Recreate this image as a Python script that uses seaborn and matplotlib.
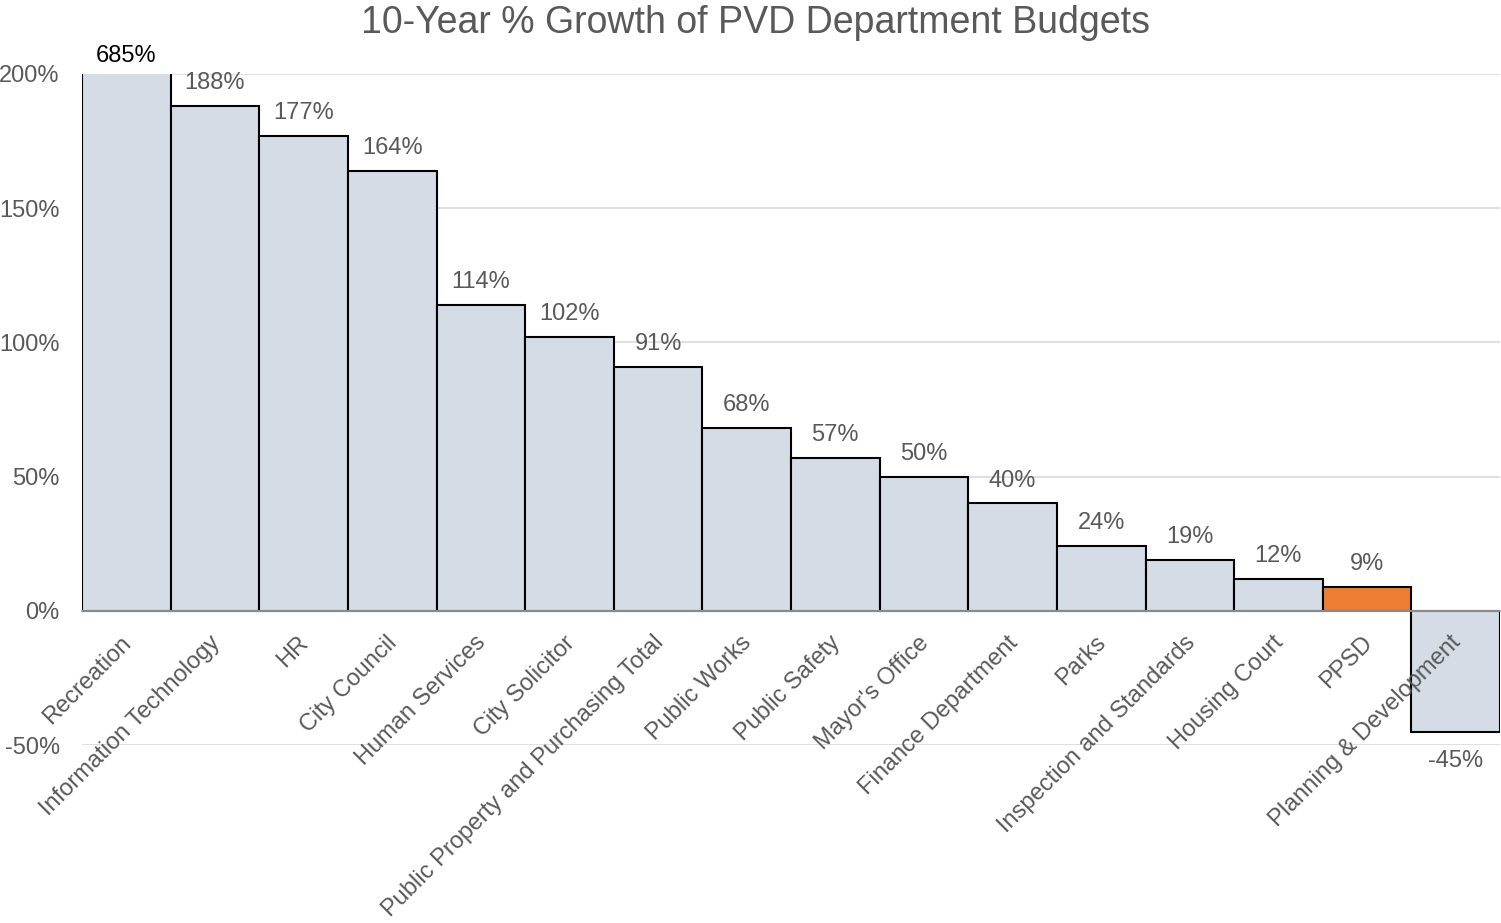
import matplotlib
matplotlib.use("Agg")
import matplotlib.pyplot as plt
import matplotlib.transforms as mtransforms
import seaborn as sns
import pandas as pd

departments = ["Recreation", "Information Technology", "HR", "City Council",
               "Human Services", "City Solicitor", "Public Property and Purchasing Total",
               "Public Works", "Public Safety", "Mayor's Office", "Finance Department",
               "Parks", "Inspection and Standards", "Housing Court", "PPSD",
               "Planning & Development"]
growth_pct = [685, 188, 177, 164, 114, 102, 91, 68, 57, 50, 40, 24, 19, 12, 9, -45]
highlight = ["PPSD"]
y_ticks = [-50, 0, 50, 100, 150, 200]

BASE = "#D6DCE5"
HIGH = "#ED7D31"
TEXT = "#595959"

sns.set_theme(style="white")
plt.rcParams['font.family'] = ['Liberation Sans', 'DejaVu Sans']

df = pd.DataFrame({"dept": departments, "growth": growth_pct})
df["grp"] = ["hi" if d in highlight else "base" for d in departments]

fig = plt.figure(figsize=(15.01, 9.23), dpi=100)
ax = fig.add_axes([82/1501, 1-745/923, (1500-82)/1501, (745-74)/923])

sns.barplot(data=df, x="dept", y="growth", hue="grp",
            palette={"base": BASE, "hi": HIGH}, width=1.0,
            edgecolor="black", linewidth=1.5, legend=False, ax=ax,
            saturation=1, zorder=1)

ax.set_ylim(-50, 200)
ax.set_xlim(-0.5, len(departments) - 0.5)
ax.set_yticks(y_ticks)
ax.set_yticklabels([f"{t}%" for t in y_ticks], fontsize=17, color=TEXT)
ax.grid(False)
for t in y_ticks:
    if t != 0:
        ax.axhline(t, color="#D9D9D9", linewidth=1.2, zorder=0)
ax.tick_params(axis='y', length=0, pad=16)
ax.tick_params(axis='x', length=0, pad=15)

for s in ["left", "right", "top"]:
    ax.spines[s].set_visible(False)
ax.spines["bottom"].set_position(("data", 0))
ax.spines["bottom"].set_color("#A6A6A6")
ax.spines["bottom"].set_linewidth(1.2)
ax.spines["bottom"].set_zorder(5)

ax.set_xticks(range(len(departments)))
ax.set_xticklabels(departments, rotation=45, ha="right", rotation_mode="anchor",
                   fontsize=17, color=TEXT)
shift = mtransforms.ScaledTranslation(-6/100, 0, fig.dpi_scale_trans)
for lab in ax.get_xticklabels():
    lab.set_transform(lab.get_transform() + shift)
ax.xaxis.set_zorder(6)
ax.set_xlabel("")
ax.set_ylabel("")

ymax = 200
for i, v in enumerate(growth_pct):
    if v > ymax:
        ax.annotate(f"{v}%", (i, ymax), xytext=(0, 13), textcoords="offset points",
                    ha="center", va="center", fontsize=17, color="black",
                    annotation_clip=False)
    elif v >= 0:
        ax.annotate(f"{v}%", (i, v), xytext=(0, 16.5), textcoords="offset points",
                    ha="center", va="center", fontsize=17, color=TEXT)
    else:
        ax.annotate(f"{v}%", (i, v), xytext=(0, -21), textcoords="offset points",
                    ha="center", va="center", fontsize=17, color=TEXT,
                    annotation_clip=False)

fig.text(0.503, 0.975, "10-Year % Growth of PVD Department Budgets",
         ha="center", va="center", fontsize=27, color=TEXT)

fig.savefig("out.png", dpi=100)
